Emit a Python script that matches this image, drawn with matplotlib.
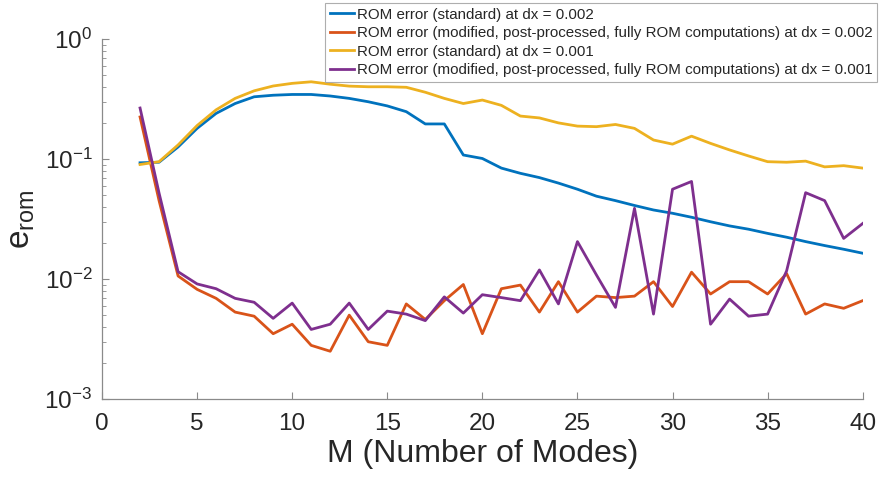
import matplotlib
matplotlib.use('Agg')
import matplotlib.pyplot as plt
from matplotlib.ticker import LogLocator, NullFormatter

plt.rcParams['font.family'] = ['Liberation Sans', 'DejaVu Sans']
plt.rcParams['mathtext.fontset'] = 'custom'
plt.rcParams['mathtext.rm'] = 'Liberation Sans'
plt.rcParams['mathtext.it'] = 'Liberation Sans:italic'

# number of modes
modes = list(range(2, 41))

# ROM error (standard) at dx = 0.002
err_std_002 = [0.093, 0.094, 0.126, 0.18, 0.24, 0.29, 0.33, 0.34, 0.345, 0.345,
               0.335, 0.32, 0.30, 0.277, 0.248, 0.196, 0.196, 0.108, 0.101, 0.084,
               0.076, 0.070, 0.063, 0.056, 0.049, 0.045, 0.041, 0.0376, 0.0353, 0.0327,
               0.030, 0.0277, 0.026, 0.024, 0.0223, 0.0205, 0.019, 0.0177, 0.0164]

# ROM error (modified ...) at dx = 0.002
err_mod_002 = [0.224, 0.045, 0.0106, 0.0082, 0.0069, 0.0053, 0.0049, 0.0035, 0.0042, 0.0028,
               0.0025, 0.0050, 0.0030, 0.0028, 0.0062, 0.0046, 0.0066, 0.0090, 0.0035, 0.0083,
               0.0089, 0.0053, 0.0095, 0.0053, 0.0072, 0.0070, 0.0072, 0.0095, 0.0059, 0.0114,
               0.0075, 0.0095, 0.0095, 0.0075, 0.0111, 0.0051, 0.0062, 0.0057, 0.0066]

# ROM error (standard) at dx = 0.001
err_std_001 = [0.090, 0.095, 0.131, 0.19, 0.257, 0.32, 0.37, 0.406, 0.427, 0.44,
               0.42, 0.405, 0.40, 0.40, 0.396, 0.36, 0.32, 0.29, 0.31, 0.28,
               0.228, 0.22, 0.20, 0.188, 0.186, 0.194, 0.18, 0.144, 0.133, 0.155,
               0.135, 0.119, 0.106, 0.095, 0.094, 0.096, 0.086, 0.088, 0.084]

# ROM error (modified ...) at dx = 0.001
err_mod_001 = [0.266, 0.052, 0.0115, 0.0091, 0.0083, 0.0069, 0.0064, 0.0047, 0.0063, 0.0038,
               0.0042, 0.0063, 0.0038, 0.0054, 0.0051, 0.0045, 0.0071, 0.0052, 0.0074, 0.0070,
               0.0066, 0.0119, 0.0062, 0.0205, 0.0108, 0.0058, 0.0388, 0.0051, 0.056, 0.065,
               0.0042, 0.0068, 0.0049, 0.0051, 0.0117, 0.0524, 0.045, 0.0218, 0.029]

labels = [
    'ROM error (standard) at dx = 0.002',
    'ROM error (modified, post-processed, fully ROM computations) at dx = 0.002',
    'ROM error (standard) at dx = 0.001',
    'ROM error (modified, post-processed, fully ROM computations) at dx = 0.001',
]
colors = ['#0072BD', '#D95319', '#EDB120', '#7E2F8E']

fig = plt.figure(figsize=(8.84, 4.84), dpi=100)
ax = fig.add_axes([0.1154, 0.1756, 0.8605, 0.7438])

for series, lab, col in zip([err_std_002, err_mod_002, err_std_001, err_mod_001], labels, colors):
    ax.plot(modes, series, color=col, linewidth=2.0, label=lab)

ax.set_yscale('log')
ax.set_xlim(0, 40)
ax.set_ylim(1e-3, 1)
ax.set_xticks(range(0, 41, 5))
ax.yaxis.set_major_locator(LogLocator(base=10, numticks=10))
ax.yaxis.set_minor_locator(LogLocator(base=10, subs=range(2, 10), numticks=10))
ax.yaxis.set_minor_formatter(NullFormatter())

ax.spines['top'].set_visible(False)
ax.spines['right'].set_visible(False)
for s in ['left', 'bottom']:
    ax.spines[s].set_color('#8a8a8a')
    ax.spines[s].set_linewidth(0.9)

ax.tick_params(axis='both', which='major', direction='in', length=5, width=0.8,
               color='#8a8a8a', labelsize=17.5, labelcolor='#262626')
ax.tick_params(axis='x', which='major', pad=10)
ax.tick_params(axis='y', which='major', pad=7)
ax.tick_params(axis='y', which='minor', direction='in', length=3, width=0.6, color='#8a8a8a')

ax.set_xlabel('M (Number of Modes)', fontsize=23, color='#262626', labelpad=3)
ax.set_ylabel(r'e$_{\mathrm{rom}}$', fontsize=24, color='#262626')
ax.yaxis.set_label_coords(-0.086, 0.5)

leg = ax.legend(loc='upper right', bbox_to_anchor=(877 / 884, 1 - 3 / 484), bbox_transform=fig.transFigure,
                fontsize=10.9, frameon=True, fancybox=False, handlelength=1.6,
                handletextpad=0.2, borderpad=0.3, labelspacing=0.3, borderaxespad=0)
leg.get_frame().set_edgecolor('#9a9a9a')
leg.get_frame().set_linewidth(0.8)
for t in leg.get_texts():
    t.set_color('#262626')

fig.savefig('out.png', dpi=100)
